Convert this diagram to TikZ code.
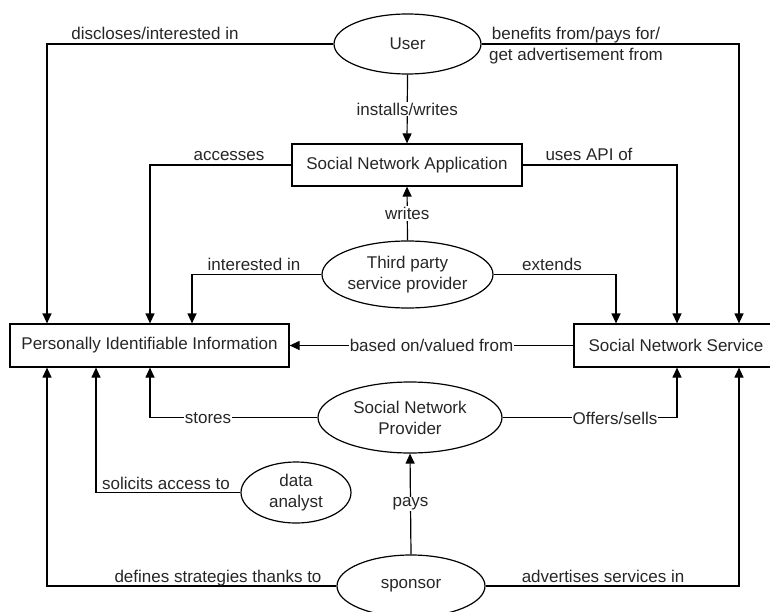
\documentclass[tikz,border=0pt]{standalone}
\usepackage{fontspec}
\setmainfont{Liberation Sans}
\usetikzlibrary{arrows.meta,shapes.geometric}
\begin{document}
\begin{tikzpicture}[x=1pt,y=-1pt,
  every node/.style={font=\fontsize{17}{21}\selectfont, text=black!85},
  ell/.style={draw, ellipse, line width=1.2pt, inner sep=0pt, align=center},
  box/.style={draw, rectangle, line width=1.2pt, inner sep=0pt},
  con/.style={line width=1.2pt},
  arr/.style={con, -{Triangle[length=10pt,width=9pt]}},
  lbl/.style={anchor=base, inner sep=0pt},
  onl/.style={fill=white, inner sep=1pt}]
\useasboundingbox (0,0) rectangle (770,612);
% nodes
\node[ell, minimum width=147pt, minimum height=60pt] (user) at (407.5,44) {User};
\node[box, minimum width=230pt, minimum height=42pt] (sna) at (407,165) {Social Network Application};
\node[ell, minimum width=171pt, minimum height=67pt] (third) at (407.5,274.5) {Third party\\service provider};
\node[box, minimum width=279pt, minimum height=43pt] (pii) at (149.5,345.5) {Personally Identifiable Information};
\node[box, minimum width=204pt, minimum height=43pt] (sns) at (676,345.5) {Social Network Service};
\node[ell, minimum width=184pt, minimum height=71pt] (snp) at (410,417.5) {Social Network\\Provider};
\node[ell, minimum width=110pt, minimum height=61pt] (da) at (296,492.5) {data\\analyst};
\node[ell, minimum width=148pt, minimum height=62pt] (sp) at (411,586) {sponsor};
% x positions of vertical connector legs
\coordinate (xa) at (47,0);
\coordinate (xb) at (96,0);
\coordinate (xc) at (150,0);
\coordinate (xd) at (192,0);
\coordinate (xe) at (616,0);
\coordinate (xf) at (677,0);
\coordinate (xg) at (739,0);
% connectors
\draw[arr] (user.west) -| (xa |- pii.north);
\draw[arr] (user.east) -| (xg |- sns.north);
\draw[arr] (user.south) -- node[onl] (linst) {installs/writes} (sna.north);
\draw[arr] (sna.west) -| (xc |- pii.north);
\draw[arr] (sna.east) -| (xf |- sns.north);
\draw[arr] (third.north) -- node[onl] (lwrites) {writes} (sna.south);
\draw[arr] (third.west) -| (xd |- pii.north);
\draw[arr] (third.east) -| (xe |- sns.north);
\draw[arr] (sns.west) -- node[onl] (lbased) {based on/valued from} (pii.east);
\draw[arr] (snp.west) -| (xc |- pii.south);
\draw[arr] (snp.east) -| (xf |- sns.south);
\draw[arr] (da.west) -| (xb |- pii.south);
\draw[arr] (sp.north) -- node[onl] (lpays) {pays} (snp.south);
\draw[arr] (sp.west) -| (xa |- pii.south);
\draw[arr] (sp.east) -| (xg |- sns.south);
% labels
\node[lbl] (ldisc) at (155,40) {discloses/interested in};
\node[align=center, inner sep=0pt] (lbene) at (576,46) {benefits from/pays for/\\get advertisement from};
\node[lbl] (lacc) at (229,161) {accesses};
\node[lbl] (lapi) at (589,161) {uses API of};
\node[lbl] (lint) at (254,270) {interested in};
\node[lbl] (lext) at (552,270) {extends};
\node[onl] (lstores) at (208,418) {stores};
\node[onl] (loffers) at (615,418) {Offers/sells};
\node[lbl] (lsol) at (166,489) {solicits access to};
\node[lbl] (ldef) at (218,582) {defines strategies thanks to};
\node[lbl] (ladv) at (603,582) {advertises services in};
\end{tikzpicture}
\end{document}
